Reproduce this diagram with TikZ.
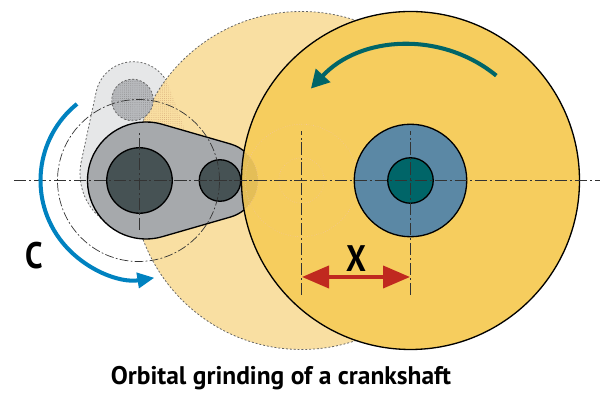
\documentclass[tikz,border=0pt]{standalone}
\usepackage{fontspec}
\setmainfont{PT Sans}
\usetikzlibrary{arrows.meta,calc,patterns.meta}
\definecolor{wheelyellow}{HTML}{F6CD5E}
\definecolor{wheelpale}{HTML}{F9DFA2}
\definecolor{hubblue}{HTML}{5B88A5}
\definecolor{hubteal}{HTML}{006568}
\definecolor{crankgrey}{HTML}{A6A9AC}
\definecolor{crankdark}{HTML}{465254}
\definecolor{ghostgrey}{HTML}{E6E7E8}
\definecolor{pingrey}{HTML}{B7B9BC}
\definecolor{turnblue}{HTML}{0082C0}
\definecolor{markred}{HTML}{C0291F}
\tikzset{
  axisline/.style={line width=0.55pt, black!80, dash pattern=on 7pt off 1.6pt on 1.2pt off 1.6pt},
  orbitline/.style={line width=0.4pt, black!80, dash pattern=on 5pt off 1.3pt on 1pt off 1.3pt},
  ghostline/.style={line width=0.45pt, black!60, dash pattern=on 1.1pt off 1.1pt},
  faintline/.style={line width=0.35pt, orange!60!brown!45, densely dotted},
  solidline/.style={line width=0.75pt, draw=black},
  stipple/.style={pattern={Dots[radius=0.22pt, distance=1.2pt]}},
  bigword/.style={font=\bfseries\fontsize{21}{21}\selectfont, inner sep=0pt, xscale=0.85, transform shape},
}
\begin{document}
\begin{tikzpicture}
        \useasboundingbox (0, 0) rectangle (12, 8);
        \def\crankshape{(2.92, 4.39) ++(74:1.17) arc (74:286:1.17) -- ($(4.40, 4.39)+(-74:0.76)$) arc (-74:74:0.76) -- cycle}
        \def\wheelcircle{(8.21, 4.39) circle (3.38)}
        \def\ghostcircle{(6.03, 4.39) circle (3.38)}

        % ghost position of the crank
        \begin{scope}[rotate around={94:(2.78, 4.39)}]
            \fill[ghostgrey] \crankshape;
            \draw[ghostline] \crankshape;
        \end{scope}
        \fill[wheelpale] \ghostcircle;
        \begin{scope}
            \clip[rotate around={94:(2.78, 4.39)}] \crankshape;
            \fill[stipple, pattern color=brown!75] \ghostcircle;
        \end{scope}
        \draw[ghostline] \ghostcircle;
        \fill[pingrey] (2.65, 6) circle (0.415);
        \fill[stipple, pattern color=black!50] (2.65, 6) circle (0.415);
        \draw[ghostline] (2.65, 6) circle (0.415);

        % crank
        \fill[crankgrey] \crankshape;
        \draw[solidline] \crankshape;
        \filldraw[fill=crankdark, solidline] (2.79, 4.39) circle (0.655);
        \filldraw[fill=crankdark, solidline] (4.40, 4.39) circle (0.415);

        % wheel
        \fill[wheelyellow] \wheelcircle;
        \begin{scope}
            \clip \wheelcircle;
            \fill[black, fill opacity=0.07] (4.40, 4.39) circle (0.76);
            \draw[faintline] (4.40, 4.39) circle (0.76);
        \end{scope}
        \draw[faintline] (6.03, 4.39) circle (1.125);
        \draw[faintline] (6.03, 4.39) circle (0.455);
        \draw[solidline] \wheelcircle;
        \filldraw[fill=hubblue, solidline] (8.21, 4.39) circle (1.125);
        \filldraw[fill=hubteal, solidline] (8.21, 4.39) circle (0.455);

        % axes
        \draw[orbitline] (2.77, 4.39) circle (1.62);
        \draw[axisline] (0.28, 4.39) -- (12, 4.39);
        \draw[axisline] (2.78, 3.4) -- (2.78, 5.4);
        \draw[axisline] (6.03, 2.1) -- (6.03, 5.38);
        \draw[axisline] (8.21, 2.1) -- (8.21, 5.38);

        % arrows
        \draw[-{Triangle[length=0.34cm, width=0.3cm]}, turnblue, line width=2.3pt] (2.78, 4.39) ++(129:1.97) arc (129:279:1.97);
        \draw[-{Triangle[length=0.36cm, width=0.38cm]}, hubteal, line width=2.3pt] (8.21, 4.39) ++(50.7:2.71) arc (50.7:137.3:2.71);
        \coordinate (gapleft) at (6.04, 2.46);
        \coordinate (gapright) at (8.2, 2.46);
        \draw[{Triangle[length=0.54cm, width=0.44cm]}-{Triangle[length=0.54cm, width=0.44cm]}, markred, line width=2.2pt] (gapleft) -- (gapright);

        \node[bigword] (letterc) at (0.68, 2.88) {C};
        \node[bigword] (letterx) at (7.12, 2.82) {X};
        \node[font=\bfseries\fontsize{14.5}{16}\selectfont, inner sep=0pt] (caption) at (5.62, 0.44) {Orbital grinding of a crankshaft};
\end{tikzpicture}
\end{document}
